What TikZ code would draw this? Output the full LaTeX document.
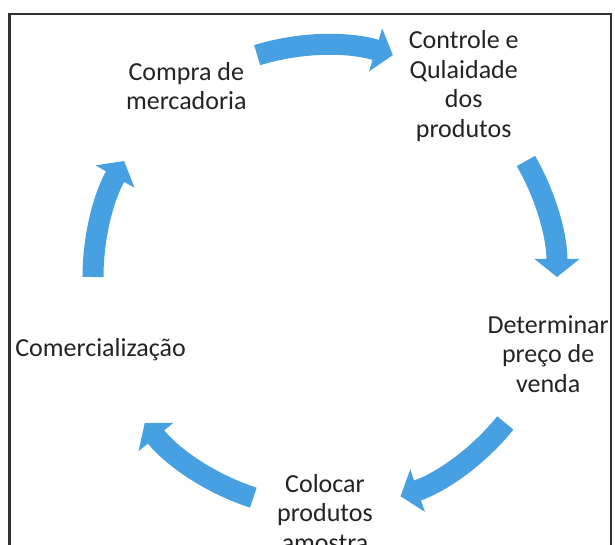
\documentclass[tikz,border=0pt]{standalone}
\usepackage{fontspec}
\setmainfont{Carlito}
\usetikzlibrary{arrows.meta}
\definecolor{cycleblue}{RGB}{70,160,225}
\definecolor{labelgray}{RGB}{35,35,35}
\tikzset{
x=0.5pt,
y=0.5pt,
every node/.style={text=labelgray, align=center, font=\fontsize{13}{14.8}\selectfont},
cyclearrow/.style={draw=cycleblue, line width=10.5pt, -{Triangle[width=22pt,length=9pt]}},
frame/.style={draw=black!80, line width=1.1pt},
}

\begin{document}
\begin{tikzpicture}

    \clip (0,0) rectangle (615,545);
    \draw[frame] (9.5,-20) rectangle (611,531);

    \begin{scope}[shift={(325,268)}]
    \node (buy) at (126:236) {Compra de\\mercadoria};
    \node (ctrl) at (54:236) {Controle e\\Qulaidade\\dos\\produtos};
    \node (price) at (-19:236) {Determinar\\preço de\\venda};
    \node (sample) at (-90:236) {Colocar\\produtos\\amostra};
    \node (sell) at (198:236) {Comercialização};

    % arrows between the steps
    \coordinate (a1) at (107:232);
    \coordinate (a2) at (30:232);
    \coordinate (a3) at (-39:232);
    \coordinate (a4) at (-108:232);
    \coordinate (a5) at (180:232);
    \draw[cyclearrow] (a1) arc[start angle=107, end angle=73, radius=232];
    \draw[cyclearrow] (a2) arc[start angle=30, end angle=0, radius=232];
    \draw[cyclearrow] (a3) arc[start angle=-39, end angle=-71, radius=232];
    \draw[cyclearrow] (a4) arc[start angle=-108, end angle=-141, radius=232];
    \draw[cyclearrow] (a5) arc[start angle=180, end angle=150, radius=232];
    \end{scope}

\end{tikzpicture}
\end{document}
